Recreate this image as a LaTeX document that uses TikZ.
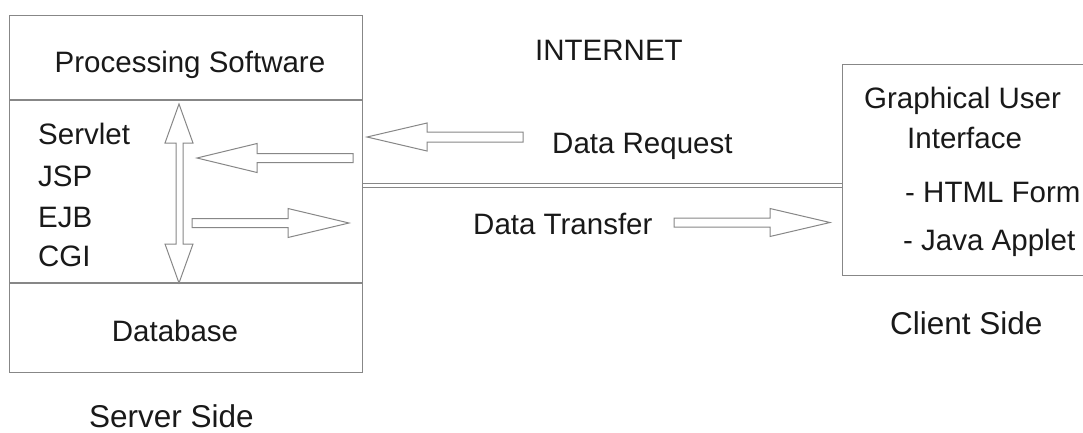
\documentclass[tikz,border=0pt]{standalone}
\usepackage{fontspec}
\setmainfont{Liberation Sans}
\definecolor{linegray}{RGB}{135,135,135}
\definecolor{txt}{RGB}{25,25,25}
\begin{document}
\begin{tikzpicture}[x=1pt,y=-1pt,
  boxline/.style={draw=linegray,line width=1.3pt},
  blockarrow/.style={draw=linegray,line width=1pt,fill=white,line join=miter},
  lbl/.style={inner sep=0pt,anchor=base west,text=txt,font=\fontsize{29.5}{31}\selectfont},
  clbl/.style={lbl,anchor=base},
  sidelbl/.style={lbl,font=\fontsize{31.5}{33}\selectfont}]
\useasboundingbox (0,0) rectangle (1083,432);
% server box
\node[boxline,minimum width=353pt,minimum height=357pt,inner sep=0pt,anchor=north west] (server) at (9,15) {};
\coordinate (d1l) at (9,100); \coordinate (d1r) at (362,100);
\coordinate (d2l) at (9,283); \coordinate (d2r) at (362,283);
\draw[boxline] (d1l) -- (d1r);
\draw[boxline] (d2l) -- (d2r);
% client box (right side runs off the page)
\node[boxline,minimum width=260pt,minimum height=211pt,inner sep=0pt,anchor=north west] (client) at (842,64) {};
% internet double line
\coordinate (n1) at (362,183.5); \coordinate (n2) at (842,183.5);
\coordinate (n3) at (362,187.5); \coordinate (n4) at (842,187.5);
\draw[draw=linegray,line width=1pt] (n1) -- (n2);
\draw[draw=linegray,line width=1pt] (n3) -- (n4);
% texts
\node[clbl] (ps) at (190,72) {Processing Software};
\node[lbl] (servlet) at (38,144) {Servlet};
\node[lbl] (jsp) at (38,186) {JSP};
\node[lbl] (ejb) at (38,227) {EJB};
\node[lbl] (cgi) at (38,266) {CGI};
\node[clbl] (db) at (175,341) {Database};
\node[sidelbl] (ss) at (89,427) {Server Side};
\node[lbl] (inet) at (535,60) {INTERNET};
\node[lbl] (dreq) at (552,153) {Data Request};
\node[lbl] (dtr) at (473,234) {Data Transfer};
\node[lbl] (gui1) at (864,108) {Graphical User};
\node[lbl] (gui2) at (907,148) {Interface};
\node[lbl] (html) at (905,202) {- HTML Form};
\node[lbl] (java) at (903,250) {- Java Applet};
\node[sidelbl] (cs) at (890,334) {Client Side};
% vertical double block arrow
\draw[blockarrow] (179,104) -- (193,143) -- (183,143) -- (183,244) -- (193,244) -- (179,283)
  -- (165,244) -- (176,244) -- (176,143) -- (165,143) -- cycle;
% left-pointing arrow inside server
\draw[blockarrow] (197,158) -- (257,143.5) -- (257,153.5) -- (353,153.5) -- (353,162.5)
  -- (257,162.5) -- (257,172.5) -- cycle;
% right-pointing arrow inside server
\draw[blockarrow] (349,223) -- (288,208.5) -- (288,218.5) -- (192,218.5) -- (192,227.5)
  -- (288,227.5) -- (288,237.5) -- cycle;
% data request arrow
\draw[blockarrow] (367,137) -- (427,123) -- (427,132) -- (523,132) -- (523,142)
  -- (427,142) -- (427,151) -- cycle;
% data transfer arrow
\draw[blockarrow] (830,222.5) -- (770,208.5) -- (770,218) -- (674,218) -- (674,227)
  -- (770,227) -- (770,236.5) -- cycle;
\end{tikzpicture}
\end{document}
